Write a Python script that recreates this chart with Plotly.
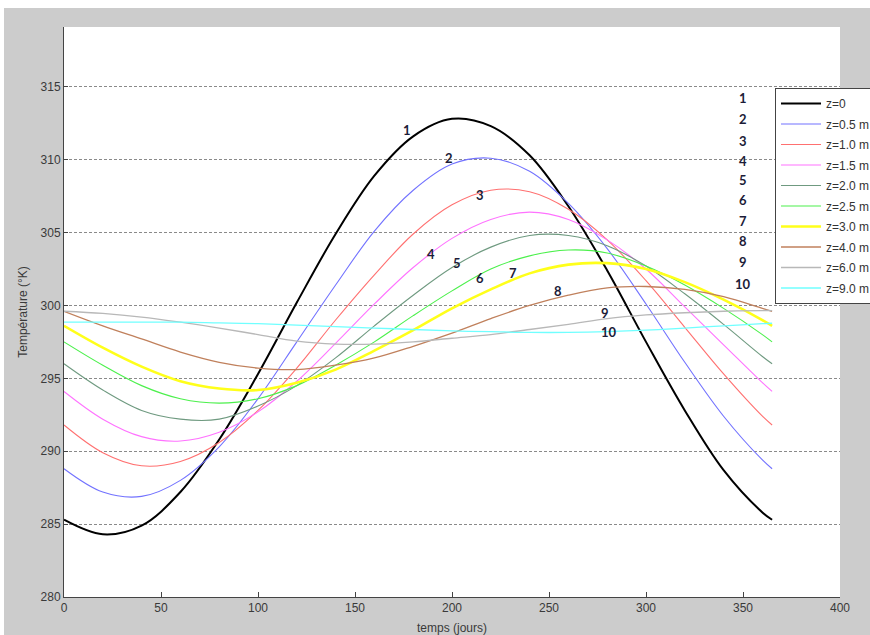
import plotly.graph_objects as go

# Day of year at which the temperature profiles are sampled
t_days = [0, 20, 40, 60, 80, 100, 120, 140, 160, 180, 200, 220, 240, 260,
          280, 300, 320, 340, 360, 365]

# Soil temperature (K) at each depth
T_z00 = [285.3, 284.3, 284.9, 287.2, 290.8, 295.3, 300.2, 304.9, 308.9, 311.6,
         312.8, 312.3, 310.3, 306.8, 302.4, 297.5, 292.8, 288.7, 285.8, 285.3]
T_z05 = [288.8, 287.2, 286.9, 288.0, 290.3, 293.6, 297.5, 301.4, 305.1, 307.9,
         309.7, 310.1, 309.2, 307.0, 303.9, 300.1, 296.1, 292.4, 289.4, 288.8]
T_z10 = [291.8, 289.9, 289.0, 289.3, 290.6, 292.8, 295.7, 299.0, 302.1, 304.9,
         306.9, 307.9, 307.8, 306.6, 304.5, 301.7, 298.5, 295.3, 292.4, 291.8]
T_z15 = [294.1, 292.2, 291.0, 290.7, 291.3, 292.7, 294.8, 297.4, 300.1, 302.6,
         304.6, 305.9, 306.4, 305.9, 304.5, 302.5, 299.9, 297.3, 294.7, 294.1]
T_z20 = [296.0, 294.2, 292.8, 292.2, 292.2, 293.1, 294.5, 296.4, 298.6, 300.7,
         302.6, 304.0, 304.8, 304.8, 304.1, 302.7, 300.8, 298.7, 296.5, 296.0]
T_z25 = [297.5, 295.9, 294.5, 293.6, 293.3, 293.6, 294.5, 295.9, 297.5, 299.3,
         301.0, 302.5, 303.4, 303.8, 303.6, 302.7, 301.4, 299.8, 298.0, 297.5]
T_z30 = [298.6, 297.1, 295.8, 294.8, 294.3, 294.2, 294.7, 295.6, 296.9, 298.3,
         299.8, 301.1, 302.2, 302.8, 302.9, 302.5, 301.6, 300.4, 299.0, 298.6]
T_z40 = [299.6, 298.6, 297.7, 296.8, 296.1, 295.7, 295.6, 295.9, 296.4, 297.2,
         298.1, 299.1, 300.0, 300.7, 301.2, 301.3, 301.1, 300.6, 299.8, 299.6]
T_z60 = [299.6, 299.45, 299.2, 298.85, 298.45, 298.0, 297.55, 297.35, 297.35, 297.5,
         297.75, 298.0, 298.35, 298.7, 299.1, 299.35, 299.5, 299.6, 299.65, 299.65]
T_z90 = [298.85, 298.85, 298.85, 298.85, 298.8, 298.75, 298.65, 298.55, 298.45, 298.35,
         298.25, 298.2, 298.15, 298.15, 298.2, 298.3, 298.45, 298.6, 298.75, 298.78]

series_names = ["z=0", "z=0.5 m", "z=1.0 m", "z=1.5 m", "z=2.0 m", "z=2.5 m",
                "z=3.0 m", "z=4.0 m", "z=6.0 m", "z=9.0 m"]
series_values = [T_z00, T_z05, T_z10, T_z15, T_z20, T_z25, T_z30, T_z40, T_z60, T_z90]

# Curve number labels: text, day, temperature
curve_labels = ["1", "2", "3", "4", "5", "6", "7", "8", "9", "10"]
label_t = [176.8, 198.5, 214.4, 189.2, 202.6, 214.4, 231.4, 254.6, 278.9, 281.0]
label_T = [312.05, 310.1, 307.6, 303.5, 302.9, 301.85, 302.2, 301.0, 299.5, 298.15]
# Column of curve numbers beside the legend
column_t = [350] * 10
column_T = [314.2, 312.8, 311.3, 309.9, 308.6, 307.2, 305.8, 304.45, 303.0, 301.5]

y_ticks = [280, 285, 290, 295, 300, 305, 310, 315]
x_ticks = [0, 50, 100, 150, 200, 250, 300, 350, 400]

line_colors = ["#000000", "#7272ff", "#ff7070", "#ff72ff", "#6f9a80",
               "#4cf04c", "#ffff1a", "#c0805c", "#b8b8b8", "#70ffff"]
line_widths = [2, 1.1, 1.1, 1.1, 1.1, 1.1, 2.6, 1.3, 1.3, 1.3]

fig = go.Figure()
for name, vals, col, w in zip(series_names, series_values, line_colors, line_widths):
    fig.add_trace(go.Scatter(
        x=t_days, y=vals, name=name, mode="lines",
        line=dict(color=col, width=w, shape="spline", smoothing=1.0),
        legendgroup=name,
    ))

label_font = dict(family="Lato, Open Sans, sans-serif", size=13, color="#1c1c38")
annotations = []
for txt, tx, ty in zip(curve_labels, label_t, label_T):
    annotations.append(dict(x=tx, y=ty, text="<b>%s</b>" % txt, showarrow=False,
                            xref="x", yref="y", font=label_font))
for txt, tx, ty in zip(curve_labels, column_t, column_T):
    annotations.append(dict(x=tx, y=ty, text="<b>%s</b>" % txt, showarrow=False,
                            xref="x", yref="y", font=label_font))

W, H = 870, 635
L, R, T, B = 64, 30, 27, 38
pw, ph = W - L - R, H - T - B

def px_x(x):
    return (x - L) / pw

def px_y(y):
    return (H - B - y) / ph

shapes = [
    # white strips at the top and left edges of the window
    dict(type="rect", xref="paper", yref="paper", x0=px_x(0), x1=px_x(W), y0=px_y(8), y1=px_y(0),
         fillcolor="white", line=dict(width=0), layer="below"),
    dict(type="rect", xref="paper", yref="paper", x0=px_x(0), x1=px_x(4), y0=px_y(H), y1=px_y(0),
         fillcolor="white", line=dict(width=0), layer="below"),
]

tick_font = dict(family="Liberation Sans, Arial, sans-serif", size=12, color="#3a3a3a")
title_font = dict(family="Liberation Sans, Arial, sans-serif", size=12, color="#3a3a3a")

fig.update_layout(
    width=W, height=H,
    margin=dict(l=L, r=R, t=T, b=B, autoexpand=False),
    paper_bgcolor="#cccccc",
    plot_bgcolor="white",
    showlegend=True,
    legend=dict(
        x=px_x(775), y=px_y(88), xanchor="left", yanchor="top",
        bgcolor="white", bordercolor="#444444", borderwidth=1,
        font=dict(family="Liberation Sans, Arial, sans-serif", size=12, color="#333333"),
        traceorder="grouped", tracegroupgap=1.5, itemwidth=40,
    ),
    xaxis=dict(
        range=[0, 400], tickvals=x_ticks, ticks="inside", ticklen=5, tickcolor="#444444",
        showline=True, linecolor="#444444", linewidth=1, showgrid=False, zeroline=False,
        tickfont=tick_font,
        title=dict(text="temps (jours)", font=title_font, standoff=9),
    ),
    yaxis=dict(
        range=[280, 319.1], tickvals=y_ticks, ticks="inside", ticklen=4, tickcolor="#444444",
        showline=True, linecolor="#444444", linewidth=1, showgrid=True,
        gridcolor="#8a8a8a", griddash="3px,2px", gridwidth=1, zeroline=False,
        tickfont=tick_font,
        title=dict(text="Température (°K)", font=title_font, standoff=10),
    ),
    annotations=annotations,
    shapes=shapes,
)

fig.write_html("out.html")
